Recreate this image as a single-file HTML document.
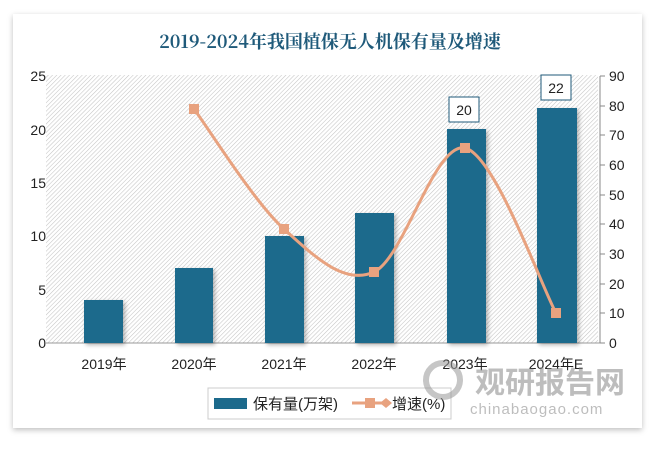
<!DOCTYPE html>
<html><head><meta charset="utf-8"><style>
body{margin:0;width:660px;height:444px;background:#fff;overflow:hidden;font-family:"Liberation Sans","Noto Sans CJK SC",sans-serif}
</style></head><body>
<svg width="660" height="444" xmlns="http://www.w3.org/2000/svg">
<defs>
<pattern id="h" width="3" height="3" patternUnits="userSpaceOnUse" patternTransform="rotate(45)">
<rect width="3" height="3" fill="#fff"/><line x1="0" y1="0" x2="0" y2="3" stroke="#c4c4c4" stroke-width="1.1"/></pattern>
<filter id="s" x="-5%" y="-5%" width="110%" height="110%"><feDropShadow dx="0" dy="2" stdDeviation="3" flood-color="#000" flood-opacity="0.25"/></filter>
<filter id="bs"><feDropShadow dx="2" dy="2" stdDeviation="2" flood-color="#000" flood-opacity="0.3"/></filter>
</defs>
<rect x="13" y="14" width="629" height="414" fill="#fff" filter="url(#s)"/>
<text x="330" y="48" text-anchor="middle" font-family="'Noto Serif CJK SC','Liberation Serif',serif" font-size="18" font-weight="bold" fill="#1f5a7a">2019-2024年我国植保无人机保有量及增速</text>
<rect x="46" y="75" width="552" height="268" fill="url(#h)"/>
<line x1="46" y1="343" x2="600" y2="343" stroke="#999"/>
<line x1="600" y1="76" x2="600" y2="343" stroke="#888"/>
<g font-size="14" fill="#222">
<g text-anchor="end"><text x="46" y="81">25</text><text x="46" y="135">20</text><text x="46" y="188">15</text><text x="46" y="241">10</text><text x="46" y="295">5</text><text x="46" y="348">0</text></g>
<g stroke="#888"><line x1="600" y1="76" x2="605" y2="76"/><line x1="600" y1="106" x2="605" y2="106"/><line x1="600" y1="135" x2="605" y2="135"/><line x1="600" y1="165" x2="605" y2="165"/><line x1="600" y1="195" x2="605" y2="195"/><line x1="600" y1="224" x2="605" y2="224"/><line x1="600" y1="254" x2="605" y2="254"/><line x1="600" y1="284" x2="605" y2="284"/><line x1="600" y1="313" x2="605" y2="313"/><line x1="600" y1="343" x2="605" y2="343"/></g>
<g><text x="609" y="81">90</text><text x="609" y="111">80</text><text x="609" y="140">70</text><text x="609" y="170">60</text><text x="609" y="200">50</text><text x="609" y="229">40</text><text x="609" y="259">30</text><text x="609" y="289">20</text><text x="609" y="318">10</text><text x="609" y="348">0</text></g>
<g text-anchor="middle"><text x="104" y="369">2019年</text><text x="194" y="369">2020年</text><text x="284" y="369">2021年</text><text x="374" y="369">2022年</text><text x="465" y="369">2023年</text><text x="556" y="369">2024年E</text></g>
</g>
<g fill="#1c6a8c" filter="url(#bs)">
<rect x="84" y="300" width="39" height="43"/><rect x="175" y="268" width="38" height="75"/><rect x="265" y="236" width="39" height="107"/><rect x="355" y="213" width="39" height="130"/><rect x="447" y="129" width="39" height="214"/><rect x="537" y="108" width="40" height="235"/>
</g>
<g font-size="14" fill="#222" text-anchor="middle">
<rect x="449" y="97" width="30" height="25" fill="#fff" stroke="#1f5a7a"/><text x="464" y="115">20</text>
<rect x="541" y="75" width="30" height="25" fill="#fff" stroke="#1f5a7a"/><text x="556" y="93">22</text>
</g>
<path d="M194,109 C209,129 254,202 284,229 C314,256 344,285.5 374,272 C404,258.5 435,141 465,148 C495,155 541,285.5 556,313" fill="none" stroke="#e8a27f" stroke-width="3"/>
<g fill="#e8a27f"><rect x="189" y="104" width="10" height="10"/><rect x="279" y="224" width="10" height="10"/><rect x="369" y="267" width="10" height="10"/><rect x="460" y="143" width="10" height="10"/><rect x="551" y="308" width="10" height="10"/></g>
<rect x="208" y="388" width="243" height="31" fill="#fff" stroke="#ccc"/>
<rect x="214" y="398" width="33" height="11" fill="#1c6a8c"/>
<text x="253" y="409" font-size="15" fill="#222">保有量(万架)</text>
<line x1="352" y1="403" x2="388" y2="403" stroke="#e8a27f" stroke-width="3"/>
<rect x="365" y="398" width="10" height="10" fill="#e8a27f"/>
<path d="M380,403 L386,398 L392,403 L386,408Z" fill="#e8a27f"/>
<text x="392" y="409" font-size="15" fill="#222">增速(%)</text>
<g opacity="0.55">
<circle cx="443" cy="380" r="17" fill="none" stroke="#999" stroke-width="6"/>
<text x="475" y="393" font-size="30" font-weight="bold" fill="#888">观研报告网</text>
<text x="470" y="414" font-size="15" fill="#888" letter-spacing="1">chinabaogao.com</text>
</g>
</svg>
</body></html>
